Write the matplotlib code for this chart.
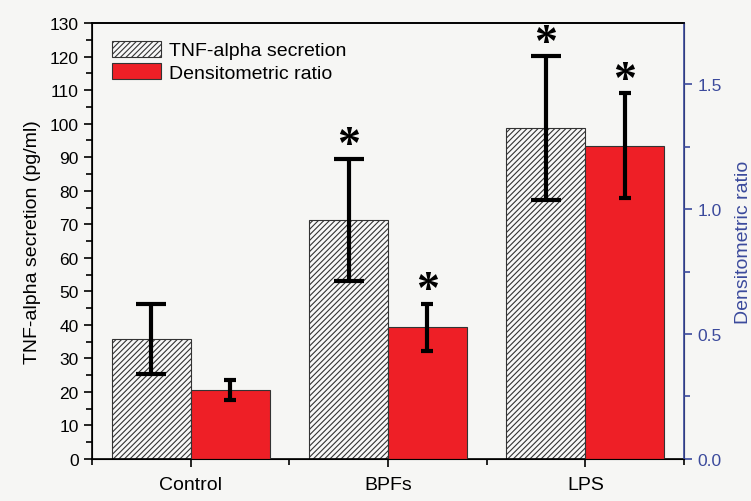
import numpy as np
import matplotlib
matplotlib.use("Agg")
import matplotlib.pyplot as plt
from matplotlib.ticker import MultipleLocator

plt.rcParams['font.family'] = ['Liberation Sans', 'DejaVu Sans']
plt.rcParams['hatch.color'] = '#333333'
plt.rcParams['hatch.linewidth'] = 0.8

# данные
groups = ['Control', 'BPFs', 'LPS']
tnf = [35.8, 71.4, 98.7]        # pg/ml
tnf_err = [10.5, 18.2, 21.4]
ratio = [0.276, 0.527, 1.253]   # densitometric ratio
ratio_err = [0.040, 0.094, 0.210]
tnf_star = [False, True, True]
ratio_star = [False, True, True]

bg = '#f6f6f4'
red = '#ee1f26'
blue = '#3b4a9c'

fig = plt.figure(figsize=(7.51, 5.02), dpi=100, facecolor=bg)
ax = fig.add_subplot(111, facecolor=bg)
fig.subplots_adjust(left=0.1225, right=0.9108, top=0.952, bottom=0.0837)
ax2 = ax.twinx()

x = np.arange(1, len(groups) + 1)
w = 0.4

b1 = ax.bar(x - w / 2, tnf, w, color='#f8f8f8', edgecolor='#333333', hatch='//////',
            linewidth=0.8, label='TNF-alpha secretion', zorder=2)
ax.errorbar(x - w / 2, tnf, yerr=tnf_err, fmt='none', ecolor='black', elinewidth=3,
            capsize=10.5, capthick=3, zorder=3)

b2 = ax2.bar(x + w / 2, ratio, w, color=red, edgecolor='#333333', linewidth=0.8,
             label='Densitometric ratio', zorder=2)
ax2.errorbar(x + w / 2, ratio, yerr=ratio_err, fmt='none', ecolor='black', elinewidth=3,
             capsize=4.5, capthick=3, zorder=3)

# звёздочки значимости
star = dict(ha='center', va='baseline', fontsize=33, family='Liberation Serif',
            fontweight='bold', textcoords='offset points', xytext=(0, 1))
for xi, v, e, s in zip(x, tnf, tnf_err, tnf_star):
    if s:
        ax.annotate('*', (xi - w / 2, v + e), **star)
for xi, v, e, s in zip(x, ratio, ratio_err, ratio_star):
    if s:
        ax2.annotate('*', (xi + w / 2, v + e), **star)

ax.set_xlim(0.5, 3.5)
ax.set_ylim(0, 130)
ax2.set_ylim(0, 1.744)

ax.set_xticks(x)
ax.set_xticklabels(groups, fontsize=14)
ax.xaxis.set_minor_locator(MultipleLocator(0.5))
ax.yaxis.set_major_locator(MultipleLocator(10))
ax.yaxis.set_minor_locator(MultipleLocator(5))
ax.tick_params(axis='both', which='major', direction='out', length=6, width=1.2, labelsize=12.5)
ax.tick_params(axis='x', which='major', labelsize=14, pad=6)
ax.tick_params(axis='both', which='minor', direction='out', length=4, width=1.2)
ax.set_ylabel('TNF-alpha secretion (pg/ml)', fontsize=14, labelpad=6)

ax2.yaxis.set_major_locator(MultipleLocator(0.5))
ax2.yaxis.set_minor_locator(MultipleLocator(0.25))
ax2.tick_params(axis='y', which='major', direction='out', length=6, width=1.2,
                labelsize=12.5, colors=blue)
ax2.tick_params(axis='y', which='minor', direction='out', length=4, width=1.2, colors=blue)
ax2.set_ylabel('Densitometric ratio', fontsize=14, color=blue, labelpad=10)

for sp in ['left', 'bottom', 'top']:
    ax.spines[sp].set_linewidth(1.2)
ax2.spines['right'].set_color(blue)
ax2.spines['right'].set_linewidth(1.2)
ax2.spines['top'].set_linewidth(1.2)

ax2.legend([b1, b2], ['TNF-alpha secretion', 'Densitometric ratio'], loc='upper left',
           bbox_to_anchor=(0.005, 1.0), frameon=False, fontsize=14, handlelength=2.5,
           handleheight=0.9, handletextpad=0.4, labelspacing=0.2)

plt.savefig('out.png', dpi=100, facecolor=bg)
